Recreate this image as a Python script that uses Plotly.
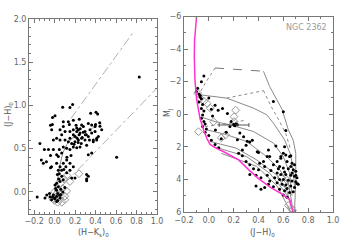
import plotly.graph_objects as go

# ---------------- Left panel: (J-H)0 vs (H-Ks)0 ----------------
left_dots_x = [0.827, 0.606, 0.176, 0.079, 0.150, 0.004, 0.352, 0.404, 0.134, 0.241,
               -0.022, 0.085, 0.144, 0.183, 0.264, 0.216, 0.232, 0.281, 0.329, 0.362,
               0.395, 0.443, 0.460, 0.085, 0.053, 0.102, 0.150, 0.183, 0.216, 0.248,
               0.297, 0.346, 0.183, 0.150, 0.134, 0.167, 0.199, 0.232, 0.264, 0.297,
               0.329, 0.362, 0.395, 0.427, 0.411, 0.378, 0.313, 0.248, 0.216, 0.183,
               0.150, 0.118, 0.085, 0.053, 0.020, 0.069, 0.102, -0.029, 0.046, 0.069,
               0.036, 0.020, 0.053, 0.036, 0.046, 0.027, 0.069, 0.085, 0.118, 0.150,
               0.183, 0.150, 0.118, 0.167, 0.199, 0.085, 0.053, 0.020, 0.004, 0.036,
               0.020, -0.012, -0.045, -0.077, -0.094, -0.029, 0.004, 0.053, 0.020, -0.143,
               -0.10, -0.06, -0.13, -0.11, -0.08, -0.04, -0.03, -0.04, -0.012, 0.020,
               0.313, 0.329, 0.313, 0.313, 0.362, 0.329, 0.378, 0.411, -0.012, -0.04,
               -0.02, 0.42, 0.44, 0.40, 0.21, 0.25, 0.28, 0.31, 0.20, 0.23,
               0.26, 0.19, 0.24, 0.27, 0.12, 0.16, 0.22, 0.30, 0.34, 0.10,
               0.06, 0.03, 0.08, 0.01, 0.05, -0.02, 0.07, 0.09, 0.11, 0.04,
               -0.17, -0.05, 0.00, 0.03, 0.06, 0.02]
left_dots_y = [1.33, 0.40, 1.01, 0.98, 0.975, 0.88, 0.91, 0.92, 0.81, 0.84,
               0.78, 0.81, 0.78, 0.83, 0.775, 0.74, 0.72, 0.755, 0.79, 0.775,
               0.755, 0.76, 0.72, 0.755, 0.72, 0.70, 0.70, 0.72, 0.70, 0.68,
               0.70, 0.72, 0.66, 0.62, 0.58, 0.56, 0.58, 0.60, 0.62, 0.60,
               0.64, 0.68, 0.70, 0.64, 0.60, 0.58, 0.54, 0.52, 0.51, 0.52,
               0.49, 0.505, 0.52, 0.60, 0.62, 0.66, 0.60, 0.72, 0.49, 0.45,
               0.41, 0.33, 0.29, 0.25, 0.21, 0.20, 0.25, 0.33, 0.37, 0.33,
               0.29, 0.25, 0.22, 0.16, 0.16, 0.14, 0.12, 0.10, 0.08, 0.06,
               0.02, -0.035, -0.055, -0.035, -0.07, -0.09, -0.07, -0.07, -0.11, 0.56,
               0.49, 0.49, 0.37, 0.33, 0.35, 0.42, 0.29, 0.28, 0.49, 0.43,
               0.20, 0.18, 0.15, 0.13, 0.45, 0.43, 0.60, 0.62, 0.60, 0.77,
               0.86, 0.90, 0.80, 0.78, 0.77, 0.73, 0.69, 0.66, 0.64, 0.57,
               0.56, 0.55, 0.66, 0.63, 0.40, 0.42, 0.62, 0.66, 0.60, 0.05,
               0.03, -0.02, 0.00, 0.04, -0.04, -0.06, 0.18, 0.26, 0.29, 0.15,
               -0.06, -0.02, -0.08, -0.10, -0.03, -0.05]

left_diam_x = [0.238, 0.118, 0.150, 0.00, 0.02, 0.05, 0.07, 0.10, 0.00, 0.04,
               0.08, 0.06, 0.10, 0.03, 0.06, 0.09, -0.02, 0.12]
left_diam_y = [0.21, 0.01, 0.12, -0.10, -0.05, -0.08, -0.12, -0.09, 0.00, 0.03,
               0.04, -0.02, -0.05, -0.12, 0.10, 0.15, -0.08, 0.19]

dwarf_x = [-0.05, 0.00, 0.03, 0.05, 0.08, 0.12, 0.17, 0.21]
dwarf_y = [-0.10, 0.00, 0.15, 0.30, 0.45, 0.55, 0.62, 0.66]
ctts_x = [0.18, 0.46]
ctts_y = [0.62, 0.79]
redd_up_x = [0.16, 0.77]
redd_up_y = [0.85, 1.85]
redd_lo_x = [0.10, 1.00]
redd_lo_y = [0.10, 1.20]

# ---------------- Right panel: MJ vs (J-H)0 ----------------
zams_x = [-0.098, -0.115, -0.117, -0.112, -0.098, -0.07, -0.04, -0.015, 0.01, 0.05,
          0.12, 0.24, 0.32, 0.40, 0.50, 0.60, 0.65, 0.68]
zams_y = [-6.1, -4.5, -3.5, -2.1, -0.9, 0.3, 1.0, 1.5, 1.85, 2.05,
          2.3, 2.8, 3.4, 3.95, 4.5, 4.95, 5.25, 6.0]

top_dash_x = [0.05, 0.44]
top_dash_y = [-2.84, -2.64]
iso1_x = [0.44, 0.49, 0.59, 0.64, 0.68, 0.70, 0.70, 0.69]
iso1_y = [-2.64, -1.7, -0.3, 0.95, 1.6, 2.4, 4.0, 6.0]
iso2_x = [-0.08, 0.05, 0.144, 0.358, 0.466, 0.52, 0.61, 0.66, 0.68, 0.69]
iso2_y = [-1.2, -1.1, -0.99, -0.38, 0.03, 0.54, 1.57, 2.5, 3.5, 4.5]
iso3_x = [-0.05, 0.05, 0.17, 0.36, 0.52, 0.60, 0.65, 0.67]
iso3_y = [0.2, 0.45, 0.65, 1.06, 1.77, 2.6, 3.6, 5.0]
iso4_x = [-0.02, 0.144, 0.305, 0.466, 0.57, 0.64, 0.67]
iso4_y = [0.95, 1.26, 1.67, 2.6, 3.4, 4.2, 5.5]
iso5_x = [0.01, 0.22, 0.385, 0.546, 0.627, 0.66]
iso5_y = [1.67, 2.08, 2.8, 3.72, 4.65, 5.6]
iso6_x = [0.036, 0.305, 0.49, 0.60, 0.654, 0.675]
iso6_y = [1.98, 2.6, 3.62, 4.65, 5.26, 6.0]
iso7_x = [0.10, 0.385, 0.55, 0.63, 0.66]
iso7_y = [2.4, 3.2, 4.4, 5.6, 6.0]

trk1_x = [0.05, -0.045, -0.085]
trk1_y = [-2.84, -1.71, -1.1]
trk2_x = [0.144, 0.30, 0.44]
trk2_y = [-0.99, -1.25, -1.45]
trk3_x = [0.44, 0.50, 0.56, 0.62, 0.66]
trk3_y = [-1.45, -0.5, 0.3, 1.2, 2.2]
trk4_x = [-0.03, 0.10, 0.20, 0.30]
trk4_y = [0.75, 0.62, 0.52, 0.35]

right_dots_x = [-0.04, -0.06, -0.09, -0.08, -0.07, -0.06, -0.08, -0.05, -0.06, -0.04,
                -0.05, -0.06, -0.04, -0.03, -0.05, -0.02, -0.03, 0.00, 0.02, 0.05,
                0.08, -0.10, -0.07, 0.00, 0.02, 0.03, 0.11, 0.075, 0.05, 0.15,
                0.18, 0.20, 0.21, 0.22, 0.23, 0.17, 0.25, 0.10, 0.28, 0.31,
                0.33, 0.27, 0.24, 0.27, 0.30, 0.33, 0.36, 0.33, 0.40, 0.42,
                0.38, 0.45, 0.44, 0.47, 0.48, 0.40, 0.52, 0.60, 0.62, 0.54,
                0.60, 0.62, 0.65, 0.66, 0.58, 0.55, 0.63, 0.67, 0.69, 0.52,
                0.57, 0.60, 0.64, 0.68, 0.70, 0.50, 0.55, 0.58, 0.62, 0.66,
                0.69, 0.71, 0.53, 0.57, 0.60, 0.64, 0.67, 0.70, 0.72, 0.49,
                0.55, 0.59, 0.62, 0.66, 0.69, 0.52, 0.57, 0.61, 0.65, 0.68,
                0.48, 0.45, 0.60, 0.63, 0.67, 0.71, 0.70, 0.66, 0.61, 0.56,
                0.47, 0.63, 0.42, 0.38, 0.41, 0.39, 0.49, 0.58, 0.61, 0.053,
                0.23, 0.35, 0.30, 0.14]
right_dots_y = [-2.35, -2.0, -1.6, -1.25, -1.05, -0.95, -0.75, -0.6, -0.35, -0.2,
                0.05, 0.25, 0.45, 0.6, 0.75, 0.9, 1.1, 1.3, 1.6, 1.85,
                2.05, -1.4, -1.15, -1.0, -0.3, 0.1, -0.36, -0.25, -0.55, -0.05,
                0.45, 0.62, 0.70, 0.60, 0.65, 0.75, 1.15, 1.5, 1.38, 1.65,
                1.7, 2.2, 2.4, 2.55, 2.9, 3.1, 3.35, 3.7, 3.4, 3.9,
                3.75, 3.2, 2.9, 2.6, 2.2, 2.35, -0.78, -0.15, 1.0, 1.95,
                2.4, 2.5, 2.6, 2.55, 2.7, 2.9, 2.9, 3.0, 3.1, 3.1,
                3.2, 3.3, 3.35, 3.4, 3.5, 3.45, 3.6, 3.7, 3.7, 3.75,
                3.8, 3.9, 3.9, 4.0, 4.0, 4.05, 4.1, 4.15, 4.3, 4.1,
                4.2, 4.3, 4.35, 4.4, 4.5, 4.45, 4.6, 4.7, 4.8, 4.75,
                4.3, 4.5, 4.95, 5.1, 3.6, 4.25, 3.75, 3.2, 3.55, 3.35,
                3.75, 4.55, 4.6, 4.4, 3.0, 2.3, 2.6, 2.6, 2.0, 0.97,
                1.57, 1.6, 1.9, 1.1]

right_diam_x = [-0.069, -0.015, -0.04, 0.012, 0.203, 0.203, 0.216, 0.039, -0.083, 0.135,
                0.10, -0.09, 0.61, 0.63, 0.665, 0.675, 0.64, 0.58]
right_diam_y = [-0.98, -0.67, -0.8, -0.37, 0.15, 0.45, -0.25, 0.46, 1.07, 1.27,
                1.45, -1.3, 4.24, 4.05, 5.75, 5.9, 5.6, 3.9]

errbar_x = [0.203]
errbar_y = [0.66]
errbar_dx = [0.12]

# ---------------- Build figure ----------------
fig = go.Figure()
GRAY = "#8a8a8a"
LGRAY = "#b0b0b0"

def line(x, y, xa, ya, color=GRAY, dash="solid", width=1):
    fig.add_trace(go.Scatter(x=x, y=y, mode="lines", xaxis=xa, yaxis=ya,
                             line=dict(color=color, dash=dash, width=width),
                             hoverinfo="skip", showlegend=False))

# left panel lines
line(redd_up_x, redd_up_y, "x", "y", LGRAY, "dashdot")
line(redd_lo_x, redd_lo_y, "x", "y", LGRAY, "dashdot")
line(ctts_x, ctts_y, "x", "y", LGRAY, "dashdot")
line(dwarf_x, dwarf_y, "x", "y", GRAY, "solid")

fig.add_trace(go.Scatter(x=left_diam_x, y=left_diam_y, mode="markers", xaxis="x", yaxis="y",
                         marker=dict(symbol="diamond-open", size=6, color="#999999",
                                     line=dict(width=1, color="#999999")),
                         showlegend=False))
fig.add_trace(go.Scatter(x=left_dots_x, y=left_dots_y, mode="markers", xaxis="x", yaxis="y",
                         marker=dict(symbol="circle", size=3, color="black"),
                         showlegend=False))

# right panel lines
line(top_dash_x, top_dash_y, "x2", "y2", "#777777", "dash")
for ix, iy in [(iso1_x, iso1_y), (iso2_x, iso2_y), (iso3_x, iso3_y), (iso4_x, iso4_y),
               (iso5_x, iso5_y), (iso6_x, iso6_y), (iso7_x, iso7_y)]:
    line(ix, iy, "x2", "y2", GRAY, "solid")
for tx, ty in [(trk1_x, trk1_y), (trk2_x, trk2_y), (trk3_x, trk3_y), (trk4_x, trk4_y)]:
    line(tx, ty, "x2", "y2", GRAY, "dot")

fig.add_trace(go.Scatter(x=right_diam_x, y=right_diam_y, mode="markers", xaxis="x2", yaxis="y2",
                         marker=dict(symbol="diamond-open", size=6, color="#999999",
                                     line=dict(width=1, color="#999999")),
                         showlegend=False))
fig.add_trace(go.Scatter(x=right_dots_x, y=right_dots_y, mode="markers", xaxis="x2", yaxis="y2",
                         marker=dict(symbol="circle", size=3, color="black"),
                         showlegend=False))
fig.add_trace(go.Scatter(x=errbar_x, y=errbar_y, mode="markers", xaxis="x2", yaxis="y2",
                         marker=dict(size=3, color="black"),
                         error_x=dict(type="data", array=errbar_dx, color="#555555",
                                      thickness=1, width=2),
                         showlegend=False))
line(zams_x, zams_y, "x2", "y2", "#ff33cc", "solid", 1.5)

W, H = 343, 243
ax_common = dict(showline=True, linecolor="#777777", linewidth=1, mirror="ticks",
                 ticks="inside", ticklen=4, tickcolor="#777777", showgrid=False,
                 zeroline=False, automargin=False,
                 tickfont=dict(size=8, color="#666666", family="DejaVu Sans"))

fig.update_layout(
    template="none",
    width=W, height=H, margin=dict(l=0, r=0, t=0, b=0, pad=0),
    paper_bgcolor="white", plot_bgcolor="white", showlegend=False,
    xaxis=dict(domain=[29 / W, 157 / W], range=[-0.25, 1.0], dtick=0.2, tick0=0,
               tickformat=".1f", minor=dict(dtick=0.05, ticks="inside", ticklen=2, tickcolor="#777777"),
               anchor="y", **ax_common),
    yaxis=dict(domain=[1 - 213.5 / H, 1 - 19 / H], range=[-0.25, 2.0], dtick=0.5, tick0=0,
               tickformat=".1f", minor=dict(dtick=0.1, ticks="inside", ticklen=2, tickcolor="#777777"),
               anchor="x", **ax_common),
    xaxis2=dict(domain=[184 / W, 333 / W], range=[-0.2, 1.0], dtick=0.2, tick0=0,
                tickformat=".1f", minor=dict(dtick=0.1, ticks="inside", ticklen=2, tickcolor="#777777"),
                anchor="y2", **ax_common),
    yaxis2=dict(domain=[1 - 212 / H, 1 - 16.5 / H], range=[6, -6], dtick=2, tick0=0,
                tickformat="d", minor=dict(dtick=1, ticks="inside", ticklen=2, tickcolor="#777777"),
                anchor="x2", **ax_common),
)

tfont = dict(size=8, color="#555555", family="DejaVu Sans")
common_ann = dict(xref="paper", yref="paper", showarrow=False, font=tfont,
                  xanchor="center", yanchor="middle")
fig.add_annotation(text="(H−K<sub>s</sub>)<sub>0</sub>", x=94 / W, y=1 - 233 / H, **common_ann)
fig.add_annotation(text="(J−H)<sub>0</sub>", x=262 / W, y=1 - 233 / H, **common_ann)
fig.add_annotation(text="(J−H)<sub>0</sub>", x=9 / W, y=1 - 115 / H, textangle=-90, **common_ann)
fig.add_annotation(text="M<sub>J</sub>", x=168 / W, y=1 - 113 / H, textangle=-90, **common_ann)
fig.add_annotation(text="NGC 2362", x=0.79, y=-5.3, xref="x2", yref="y2", showarrow=False,
                   font=dict(size=8, color="#9a9a9a", family="DejaVu Sans"))

fig.write_html("out.html", config={"displayModeBar": False},
               post_script="document.body.style.margin='0';document.body.style.padding='0';")
